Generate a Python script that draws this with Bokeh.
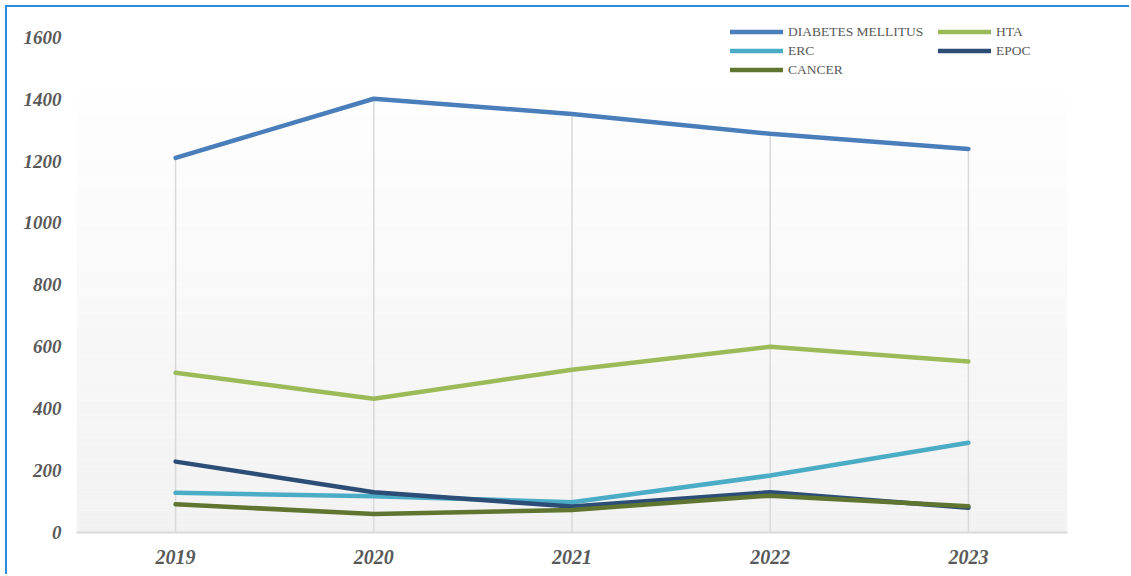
from bokeh.plotting import figure
from bokeh.models import Range1d, FixedTicker, Legend, LegendItem, BoxAnnotation
from bokeh.embed import file_html
from bokeh.resources import INLINE

years = [2019, 2020, 2021, 2022, 2023]
year_labels = ["2019", "2020", "2021", "2022", "2023"]
dm = [1210, 1401, 1352, 1288, 1239]
hta = [516, 432, 526, 600, 552]
erc = [128, 117, 98, 184, 290]
epoc = [229, 130, 84, 130, 80]
cancer = [91, 60, 73, 119, 85]
series_names = ["DIABETES MELLITUS", "HTA", "ERC", "EPOC", "CANCER"]
y_ticks = [0, 200, 400, 600, 800, 1000, 1200, 1400, 1600]

colors = ["#4a7ebb", "#9bbb59", "#4bacc6", "#2c4d75", "#5f7530"]

W, H = 1124, 569
p = figure(width=W, height=H, output_backend="svg", toolbar_location=None,
           x_range=Range1d(2018.5, 2023.5), y_range=Range1d(0, 1670),
           min_border_left=69, min_border_right=W - 69 - 991, min_border_top=8,
           min_border_bottom=44)
p.styles = {"border-left": "2px solid #2d8be0", "border-top": "2px solid #2d8be0",
            "margin-left": "5px", "margin-top": "5px"}
p.outline_line_color = None
p.background_fill_color = "white"
p.border_fill_color = "white"
p.xgrid.grid_line_color = None
p.ygrid.grid_line_color = None

# gradient plot-area background (white at top -> light gray at bottom)
n = 60
top_val = 1420
for i in range(n):
    b = top_val * i / n
    t = top_val * (i + 1) / n
    f = i / (n - 1)
    c = int(round(0xf2 + (0xfe - 0xf2) * f))
    p.add_layout(BoxAnnotation(bottom=b, top=t, fill_color="#%02x%02x%02x" % (c, c, c),
                               fill_alpha=1, line_color=None, level="underlay"))

# drop lines
p.segment(x0=years, y0=[0] * len(years), x1=years, y1=dm, line_color="#d9d9d9",
          line_width=1.5)

renderers = []
for name, vals, col in zip(series_names, [dm, hta, erc, epoc, cancer], colors):
    r = p.line(years, vals, line_color=col, line_width=4.5, line_cap="round",
               line_join="round")
    renderers.append(r)

# axes
p.xaxis.ticker = FixedTicker(ticks=years)
p.xaxis.major_label_overrides = {y: l for y, l in zip(years, year_labels)}
p.xaxis.axis_line_color = "#d9d9d9"
p.xaxis.axis_line_width = 2
p.xaxis.major_tick_line_color = None
p.xaxis.minor_tick_line_color = None
p.xaxis.major_tick_out = 0
p.xaxis.major_tick_in = 0
p.xaxis.major_label_standoff = 17
p.xaxis.major_label_text_font = "Liberation Serif"
p.xaxis.major_label_text_font_style = "bold italic"
p.xaxis.major_label_text_font_size = "20px"
p.xaxis.major_label_text_color = "#595959"

p.yaxis.ticker = FixedTicker(ticks=y_ticks)
p.yaxis.axis_line_color = None
p.yaxis.major_tick_line_color = None
p.yaxis.minor_tick_line_color = None
p.yaxis.major_tick_out = 0
p.yaxis.major_tick_in = 0
p.yaxis.major_label_standoff = 15
p.yaxis.major_label_text_font = "Liberation Serif"
p.yaxis.major_label_text_font_style = "bold italic"
p.yaxis.major_label_text_font_size = "19px"
p.yaxis.major_label_text_color = "#595959"

items = [LegendItem(label=nm, renderers=[r]) for nm, r in zip(series_names, renderers)]
legend = Legend(items=items, location=(654, 453), orientation="horizontal", ncols=2,
                padding=0, margin=0, spacing=0, label_standoff=5, glyph_width=53,
                glyph_height=19, label_height=19, label_width=150,
                label_text_font="Liberation Serif", label_text_font_size="13.5px",
                label_text_color="#595959", background_fill_alpha=0,
                border_line_color=None)
p.add_layout(legend, "center")

open("out.html", "w").write(file_html(p, INLINE))
